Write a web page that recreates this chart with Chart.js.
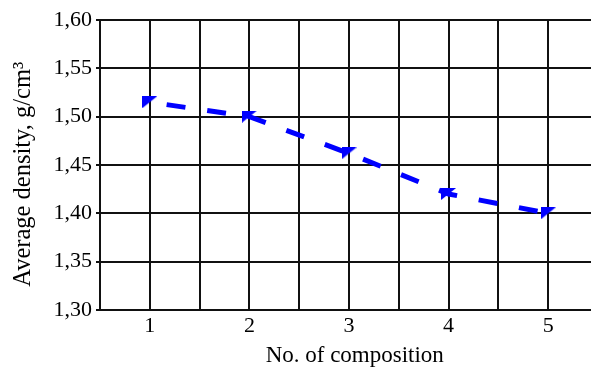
<!DOCTYPE html>
<html>
<head>
<meta charset="utf-8">
<script src="https://cdn.jsdelivr.net/npm/chart.js@4"></script>
<style>
  html, body { margin: 0; overflow: hidden; background: #fff; }
  #wrap { width: 591px; height: 367px; overflow: hidden; position: relative; }
  canvas { display: block; }
</style>
</head>
<body>
<div id="wrap"><canvas id="myChart" width="610" height="367"></canvas></div>
<script>
// composition numbers and measured average density
const categories = [1, 2, 3, 4, 5];
const xLabels = ['1', '2', '3', '4', '5'];
const density = [1.515, 1.50, 1.462, 1.42, 1.40];

// marker: small filled triangle
const tri = document.createElement('canvas');
tri.width = 15;
tri.height = 12;
const tctx = tri.getContext('2d');
tctx.fillStyle = '#0000ff';
tctx.beginPath();
tctx.moveTo(0, 0);
tctx.lineTo(15, 0);
tctx.lineTo(0, 12);
tctx.closePath();
tctx.fill();

const serif = 'Liberation Serif';
const ctx = document.getElementById('myChart');

new Chart(ctx, {
  type: 'line',
  data: {
    datasets: [{
      label: 'Density',
      data: categories.map((c, i) => ({ x: c, y: density[i] })),
      borderColor: '#0000ff',
      borderWidth: 5,
      borderDash: [19, 22],
      borderDashOffset: 24,
      tension: 0,
      pointStyle: tri,
      pointRadius: 7,
      pointHoverRadius: 7
    }]
  },
  options: {
    responsive: false,
    animation: false,
    // plot runs past the right edge of the picture (the wrapper crops it)
    layout: { padding: { top: 20, right: 10, left: 0, bottom: 0 } },
    plugins: { legend: { display: false }, tooltip: { enabled: false } },
    scales: {
      x: {
        type: 'linear',
        min: 0.5,
        max: 5.5,
        afterFit: s => { s.height = 57; },
        ticks: {
          stepSize: 0.5,
          autoSkip: false,
          maxRotation: 0,
          padding: 3,
          color: '#000',
          font: { family: serif, size: 22 },
          callback: v => Number.isInteger(v) ? xLabels[v - 1] : ''
        },
        grid: { color: '#111', lineWidth: 2, drawTicks: false },
        border: { color: '#111', width: 2 },
        title: {
          display: true,
          text: '\u00A0\u00A0No. of composition',
          color: '#000',
          font: { family: serif, size: 23, lineHeight: 0.95 },
          padding: { top: 0, bottom: 0 }
        }
      },
      y: {
        min: 1.3,
        max: 1.6,
        afterFit: s => { s.width = 100; },
        ticks: {
          stepSize: 0.05,
          padding: 4,
          color: '#000',
          font: { family: serif, size: 22 },
          callback: v => v.toFixed(2).replace('.', ',')
        },
        grid: { color: '#111', lineWidth: 2, tickLength: 4 },
        border: { color: '#111', width: 2 },
        title: {
          display: true,
          text: 'Average density, g/cm\u00B3\u00A0\u00A0\u00A0',
          color: '#000',
          font: { family: serif, size: 24.5 },
          padding: { top: 9, bottom: 0 }
        }
      }
    }
  }
});
</script>
</body>
</html>
